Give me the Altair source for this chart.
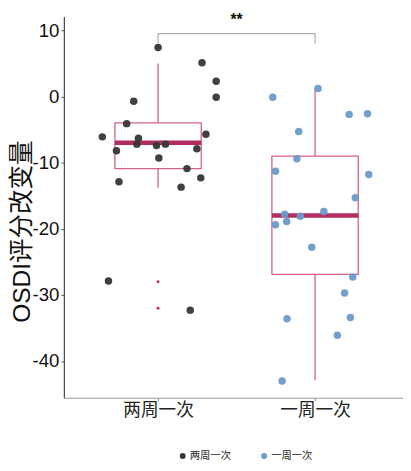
import altair as alt
import pandas as pd

# ---------------- data ----------------
groups = ["两周一次", "一周一次"]
group_pos = [1, 2]
colors = ["#363636", "#6b9bc8"]

g1_values = [7.4, 5.1, 2.3, -0.1, -0.7, -4.1, -6.1, -5.7, -6.3, -7.2, -8.2,
             -7.4, -7.2, -7.9, -9.3, -10.9, -12.9, -12.3, -13.7, -27.9, -32.3]
g1_jitter = [0.0, 0.28, 0.37, 0.37, -0.155, -0.2, -0.355, 0.305, -0.125, -0.135, -0.265,
             -0.01, 0.047, 0.247, 0.005, 0.184, -0.249, 0.272, 0.147, -0.316, 0.205]
g2_values = [-0.1, 1.2, -2.7, -2.6, -5.3, -9.4, -11.3, -11.8, -15.3, -17.8, -17.4,
             -18.1, -19.4, -18.9, -22.8, -27.3, -29.7, -33.6, -33.4, -36.1, -43.0]
g2_jitter = [-0.27, 0.019, 0.217, 0.334, -0.104, -0.116, -0.252, 0.342, 0.256, -0.194, 0.056,
             -0.094, -0.252, -0.181, -0.021, 0.24, 0.188, -0.179, 0.225, 0.142, -0.21]

box_q1 = [-10.9, -26.9]
box_median = [-7.0, -18.0]
box_q3 = [-4.0, -9.0]
box_lower = [-13.8, -42.9]
box_upper = [5.0, 1.2]

outlier_pos = [1, 1, 1]
outlier_values = [7.4, -28.0, -32.0]

bracket_x = [1, 2]
bracket_top = 9.5
bracket_bottom = 8.0
sig_label = "**"

y_ticks = [10, 0, -10, -20, -30, -40]
y_title = "OSDI评分改变量"

# ---------------- tables ----------------
pts = pd.DataFrame({
    "pos": [group_pos[0] + j for j in g1_jitter] + [group_pos[1] + j for j in g2_jitter],
    "value": g1_values + g2_values,
    "group": [groups[0]] * len(g1_values) + [groups[1]] * len(g2_values),
})
box = pd.DataFrame({
    "group": groups, "pos": group_pos, "q1": box_q1, "median": box_median,
    "q3": box_q3, "lower": box_lower, "upper": box_upper,
})
outl = pd.DataFrame({"pos": outlier_pos, "value": outlier_values})
brk_h = pd.DataFrame({"x1": [bracket_x[0]], "x2": [bracket_x[1]], "y": [bracket_top]})
brk_v = pd.DataFrame({"x": bracket_x, "y1": [bracket_top] * 2, "y2": [bracket_bottom] * 2})
sig = pd.DataFrame({"x": [sum(bracket_x) / 2], "y": [bracket_top + 2.1], "t": [sig_label]})

CJK = "Liberation Sans, Noto Sans CJK SC"
PINK = "#d4618c"
MED = "#b32d60"

xs = alt.Scale(domain=[0.4, 2.56], nice=False, zero=False)
ys = alt.Scale(domain=[-45.55, 12.1], nice=False, zero=False)

label_expr = "[" + ",".join("'" + g + "'" for g in groups) + "][datum.value - 1]"
x_axis = alt.Axis(values=group_pos, labelExpr=label_expr, title=None, grid=False,
                  labelFont="Noto Sans CJK SC", labelFontSize=18, labelColor="#222",
                  tickSize=3, tickColor="#888", domainColor="#999", domainWidth=1.2,
                  labelPadding=1)
y_axis = alt.Axis(values=y_ticks, labelExpr="'' + datum.value", title=y_title, grid=False,
                  labelFont="Liberation Sans", labelFontSize=19, labelColor="#111",
                  tickSize=3, tickColor="#555", domainColor="#444", domainWidth=1.2,
                  labelPadding=2,
                  titleFont=CJK, titleFontSize=25, titleFontWeight="normal", titleColor="#111",
                  titleX=-43, titleY=219, titleAlign="center", titleBaseline="middle")


def X(f):
    return alt.X(f, type="quantitative", scale=xs, axis=x_axis)


def Y(f):
    return alt.Y(f, type="quantitative", scale=ys, axis=y_axis)


bbase = alt.Chart(box).transform_calculate(left="datum.pos - 0.275", right="datum.pos + 0.275")

whisk_up = bbase.mark_rule(color=PINK, strokeWidth=1.3).encode(x=X("pos"), y=Y("upper"), y2="q3:Q")
whisk_lo = bbase.mark_rule(color=PINK, strokeWidth=1.3).encode(x=X("pos"), y=Y("lower"), y2="q1:Q")
rect = bbase.mark_rect(fillOpacity=0, stroke=PINK, strokeWidth=1.3).encode(
    x=X("left"), x2="right:Q", y=Y("q1"), y2="q3:Q")
med = bbase.mark_rule(color=MED, strokeWidth=4.5).encode(x=X("left"), x2="right:Q", y=Y("median"))

outs = alt.Chart(outl).mark_circle(size=9, color="#c42d5c", opacity=1).encode(x=X("pos"), y=Y("value"))

points = alt.Chart(pts).mark_circle(size=58, opacity=0.95).encode(
    x=X("pos"), y=Y("value"),
    color=alt.Color("group:N", scale=alt.Scale(domain=groups, range=colors),
                    legend=alt.Legend(orient="none", legendX=116, legendY=443, direction="horizontal",
                                      title=None, labelFont="Noto Sans CJK SC", labelFontSize=10.5,
                                      labelColor="#222", symbolSize=36, symbolType="circle",
                                      labelOffset=2, columnPadding=28, symbolStrokeWidth=0,
                                      symbolOpacity=1)))

bh = alt.Chart(brk_h).mark_rule(color="#999", strokeWidth=1).encode(x=X("x1"), x2="x2:Q", y=Y("y"))
bv = alt.Chart(brk_v).mark_rule(color="#999", strokeWidth=1).encode(x=X("x"), y=Y("y1"), y2="y2:Q")
st = alt.Chart(sig).mark_text(fontSize=16, font="Liberation Sans", color="#111", fontWeight="bold").encode(
    x=X("x"), y=Y("y"), text="t:N")

chart = alt.layer(whisk_up, whisk_lo, rect, med, outs, points, bh, bv, st).properties(
    width=346, height=389,
    autosize=alt.AutoSizeParams(type="none"),
    padding={"left": 57, "top": 4, "right": 0, "bottom": 68},
).configure_view(stroke=None)

chart.save("out.html", embed_options={"renderer": "svg", "actions": False})
